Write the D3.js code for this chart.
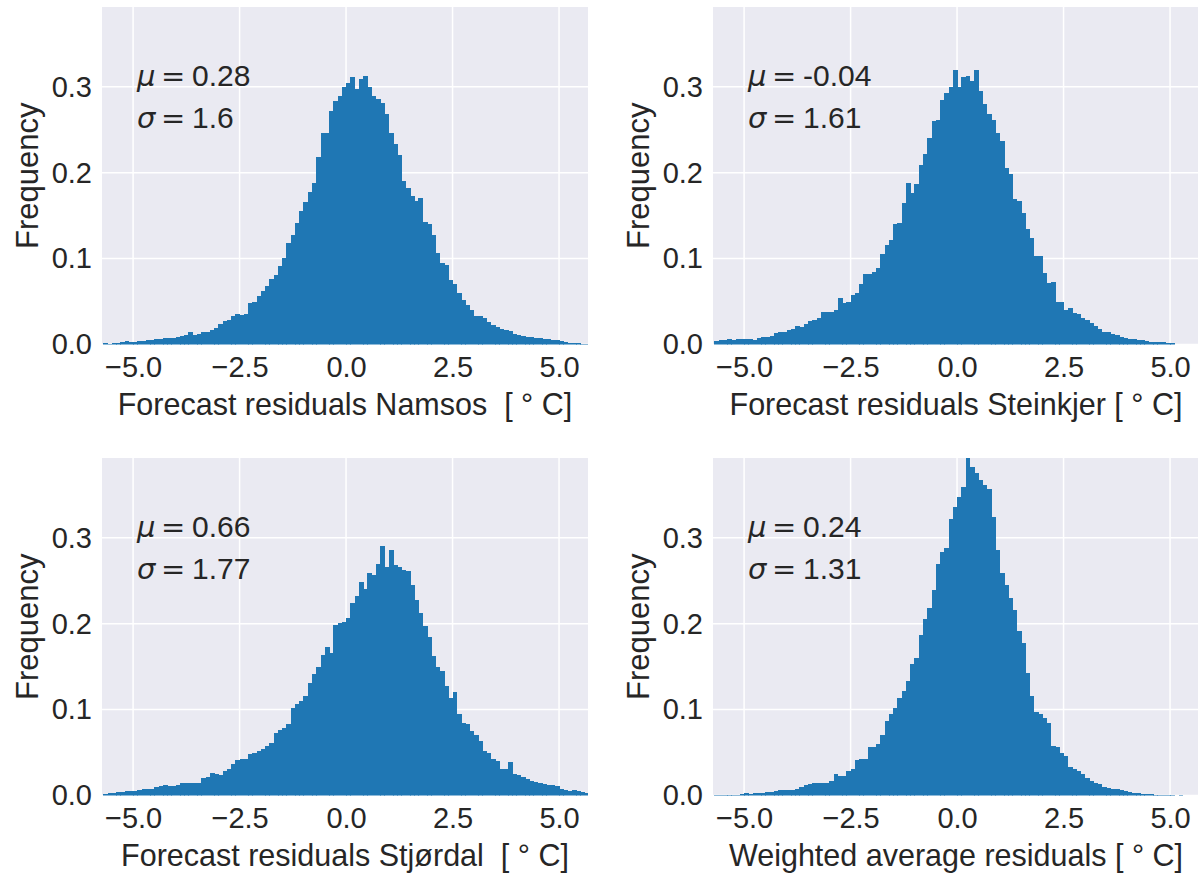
<!DOCTYPE html>
<html>
<head>
<meta charset="utf-8">
<script src="https://cdn.jsdelivr.net/npm/d3@7"></script>
<style>
  body { margin: 0; background: #fff; }
  text { fill: #262626; }
</style>
</head>
<body>
<svg id="chart" width="1198" height="875"></svg>
<script>
// histogram bins: width 0.1, first bin starts at -5.7 (114 bins)
var binStart = -5.7, binWidth = 0.1;

var namsos = [
  0.002, 0.001, 0.002, 0.002, 0.003, 0.004, 0.003,
  0.003, 0.004, 0.004, 0.005, 0.005, 0.006, 0.006, 0.007, 0.007, 0.008,
  0.009, 0.010, 0.011, 0.015, 0.011, 0.012, 0.014, 0.015, 0.017, 0.019,
  0.024, 0.027, 0.028, 0.033, 0.035, 0.034, 0.036, 0.048, 0.050, 0.056,
  0.062, 0.068, 0.076, 0.081, 0.091, 0.101, 0.118, 0.128, 0.141, 0.155,
  0.166, 0.178, 0.188, 0.218, 0.246, 0.246, 0.272, 0.283, 0.289, 0.300,
  0.304, 0.312, 0.297, 0.309, 0.313, 0.300, 0.289, 0.286, 0.281, 0.268,
  0.246, 0.233, 0.221, 0.190, 0.182, 0.173, 0.167, 0.171, 0.143, 0.140,
  0.128, 0.106, 0.095, 0.093, 0.075, 0.070, 0.060, 0.052, 0.046, 0.040,
  0.033, 0.033, 0.031, 0.026, 0.023, 0.020, 0.018, 0.017, 0.016, 0.012,
  0.011, 0.010, 0.009, 0.009, 0.008, 0.007, 0.006, 0.006, 0.005, 0.005,
  0.004, 0.003, 0.002, 0.002, 0.002, 0.001, 0.001
];

var steinkjer = [
  0.004, 0.005, 0.005, 0.006, 0.005, 0.006, 0.006,
  0.006, 0.006, 0.005, 0.008, 0.009, 0.009, 0.010, 0.013, 0.015, 0.015,
  0.017, 0.018, 0.021, 0.020, 0.024, 0.027, 0.029, 0.031, 0.038, 0.038,
  0.038, 0.040, 0.054, 0.048, 0.050, 0.058, 0.060, 0.070, 0.082, 0.082,
  0.084, 0.089, 0.105, 0.116, 0.122, 0.140, 0.141, 0.165, 0.188, 0.176,
  0.187, 0.209, 0.222, 0.241, 0.260, 0.262, 0.285, 0.293, 0.300, 0.320,
  0.300, 0.312, 0.313, 0.307, 0.320, 0.295, 0.280, 0.268, 0.262, 0.246,
  0.237, 0.206, 0.198, 0.169, 0.167, 0.153, 0.134, 0.124, 0.103, 0.103,
  0.083, 0.072, 0.073, 0.050, 0.050, 0.040, 0.042, 0.037, 0.035, 0.031,
  0.028, 0.025, 0.021, 0.018, 0.015, 0.014, 0.012, 0.011, 0.009, 0.007,
  0.006, 0.006, 0.005, 0.005, 0.004, 0.003, 0.003, 0.003, 0.003, 0.002,
  0.002, 0, 0, 0, 0, 0, 0
];

var stjordal = [
  0.002, 0.003, 0.003, 0.004, 0.004, 0.005, 0.005,
  0.005, 0.006, 0.007, 0.007, 0.008, 0.010, 0.011, 0.012, 0.011, 0.011,
  0.012, 0.014, 0.014, 0.014, 0.015, 0.014, 0.020, 0.021, 0.026, 0.025,
  0.024, 0.028, 0.031, 0.037, 0.041, 0.042, 0.042, 0.048, 0.049, 0.052,
  0.054, 0.058, 0.061, 0.073, 0.076, 0.079, 0.083, 0.102, 0.106, 0.110,
  0.116, 0.131, 0.141, 0.150, 0.164, 0.173, 0.166, 0.199, 0.201, 0.202,
  0.207, 0.224, 0.232, 0.249, 0.241, 0.259, 0.257, 0.270, 0.290, 0.266,
  0.286, 0.268, 0.266, 0.263, 0.261, 0.245, 0.228, 0.212, 0.197, 0.185,
  0.162, 0.150, 0.145, 0.127, 0.114, 0.120, 0.095, 0.085, 0.083, 0.075,
  0.071, 0.063, 0.052, 0.050, 0.042, 0.040, 0.031, 0.031, 0.039, 0.025,
  0.024, 0.021, 0.019, 0.017, 0.016, 0.014, 0.013, 0.012, 0.012, 0.011,
  0.007, 0.006, 0.005, 0.006, 0.005, 0.004, 0.003
];

var weighted = [
  0.001, 0.001, 0.001, 0.001, 0.001, 0.001, 0.002,
  0.003, 0.002, 0.003, 0.003, 0.003, 0.004, 0.004, 0.005, 0.006, 0.006,
  0.006, 0.006, 0.008, 0.010, 0.012, 0.013, 0.014, 0.014, 0.015, 0.015,
  0.017, 0.025, 0.023, 0.023, 0.028, 0.031, 0.041, 0.042, 0.043, 0.056,
  0.057, 0.060, 0.071, 0.087, 0.095, 0.102, 0.114, 0.122, 0.133, 0.153,
  0.160, 0.187, 0.205, 0.218, 0.239, 0.270, 0.284, 0.288, 0.322, 0.336,
  0.348, 0.359, 0.400, 0.382, 0.375, 0.367, 0.362, 0.357, 0.324, 0.286,
  0.259, 0.245, 0.230, 0.216, 0.191, 0.178, 0.143, 0.116, 0.097, 0.095,
  0.090, 0.085, 0.058, 0.056, 0.050, 0.046, 0.033, 0.031, 0.028, 0.025,
  0.020, 0.017, 0.014, 0.013, 0.010, 0.009, 0.008, 0.007, 0.006, 0.005,
  0.004, 0.003, 0.003, 0.002, 0.002, 0.002, 0.001, 0.001, 0.001, 0.001,
  0.001, 0, 0.001, 0, 0, 0, 0
];

var seriesList = [namsos, steinkjer, stjordal, weighted];
var xLabels = [
  "Forecast residuals Namsos  [ \u00b0 C]",
  "Forecast residuals Steinkjer [ \u00b0 C]",
  "Forecast residuals Stj\u00f8rdal  [ \u00b0 C]",
  "Weighted average residuals [ \u00b0 C]"
];
var muVals = ["0.28", "-0.04", "0.66", "0.24"];
var sigmaVals = ["1.6", "1.61", "1.77", "1.31"];
var xTicks = [-5, -2.5, 0, 2.5, 5];
var yTicks = [0, 0.1, 0.2, 0.3];

var svg = d3.select("#chart");
var W = 486, H = 337.5;
var origins = [[102, 7], [713, 7], [102, 458], [713, 458]];

var x = d3.scaleLinear().domain([-5.73, 5.68]).range([0, W]);
var y = d3.scaleLinear().domain([0, 0.393]).range([H, 0]);

var fmt = d3.format(".1f");
var sans = "Liberation Sans, Arial, sans-serif";

seriesList.forEach(function(vals, i) {
  var g = svg.append("g").attr("transform", "translate(" + origins[i][0] + "," + origins[i][1] + ")");

  // background
  g.append("rect").attr("width", W).attr("height", H).attr("fill", "#eaeaf2");

  // grid
  g.selectAll(".gx").data(xTicks).enter().append("line")
    .attr("x1", function(d){ return x(d) }).attr("x2", function(d){ return x(d) })
    .attr("y1", 0).attr("y2", H)
    .attr("stroke", "#fff").attr("stroke-width", 1.5);
  g.selectAll(".gy").data(yTicks).enter().append("line")
    .attr("x1", 0).attr("x2", W)
    .attr("y1", function(d){ return y(d) }).attr("y2", function(d){ return y(d) })
    .attr("stroke", "#fff").attr("stroke-width", 1.5);

  // bars
  var clipId = "clip" + i;
  g.append("clipPath").attr("id", clipId).append("rect").attr("width", W).attr("height", H);
  g.append("g").attr("clip-path", "url(#" + clipId + ")")
    .attr("shape-rendering", "crispEdges")
    .selectAll("rect").data(vals).enter().append("rect")
      .attr("x", function(d, j){ return x(binStart + j * binWidth) })
      .attr("width", function(d, j){ return x(binStart + (j + 1) * binWidth) - x(binStart + j * binWidth) + 0.6 })
      .attr("y", function(d){ return y(d) })
      .attr("height", function(d){ return H - y(d) })
      .attr("fill", "#1f77b4");

  // axes
  var ax = g.append("g").attr("transform", "translate(0," + H + ")")
    .call(d3.axisBottom(x).tickValues(xTicks).tickFormat(fmt).tickSize(0).tickPadding(12));
  ax.select(".domain").remove();
  ax.selectAll("text").attr("font-family", sans).attr("font-size", 29).attr("fill", "#262626");

  var ay = g.append("g")
    .call(d3.axisLeft(y).tickValues(yTicks).tickFormat(fmt).tickSize(0).tickPadding(10));
  ay.select(".domain").remove();
  ay.selectAll("text").attr("font-family", sans).attr("font-size", 29).attr("fill", "#262626");

  // labels
  g.append("text")
    .attr("x", W / 2).attr("y", H + 70)
    .attr("text-anchor", "middle")
    .attr("font-family", sans).attr("font-size", 30.5)
    .style("white-space", "pre")
    .text(xLabels[i]);

  g.append("text")
    .attr("transform", "translate(" + (38 - origins[0][0]) + "," + (H / 2) + ") rotate(-90)")
    .attr("text-anchor", "middle")
    .attr("font-family", sans).attr("font-size", 31)
    .text("Frequency");

  // annotation
  [["\u03bc", muVals[i], 79], ["\u03c3", sigmaVals[i], 121]].forEach(function(a) {
    g.append("text").attr("x", 35).attr("y", a[2])
      .attr("font-family", "DejaVu Sans, sans-serif").attr("font-style", "italic").attr("font-size", 29)
      .text(a[0]);
    g.append("text").attr("x", 59).attr("y", a[2])
      .attr("font-family", "DejaVu Sans, sans-serif").attr("font-size", 29)
      .text("=");
    g.append("text").attr("x", 90).attr("y", a[2])
      .attr("font-family", sans).attr("font-size", 30)
      .text(a[1]);
  });
});
</script>
</body>
</html>
